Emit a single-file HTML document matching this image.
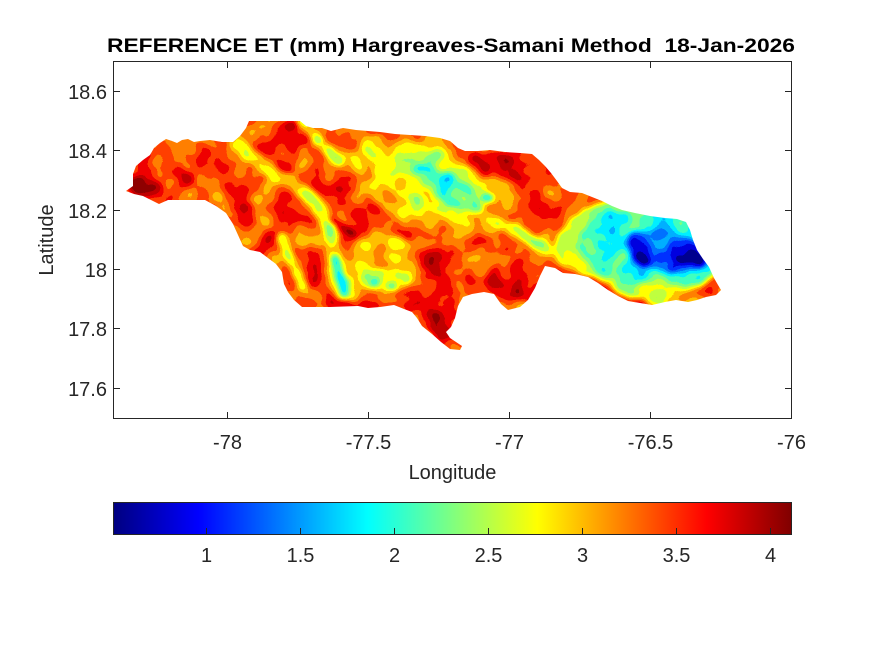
<!DOCTYPE html>
<html>
<head>
<meta charset="utf-8">
<style>
  html,body{margin:0;padding:0;background:#fff;}
  svg{display:block;}
  text{font-family:"Liberation Sans", Arial, sans-serif;}
</style>
</head>
<body>
<svg width="875" height="656" viewBox="0 0 875 656" xmlns="http://www.w3.org/2000/svg">
  <defs>
    <linearGradient id="jet" x1="0" y1="0" x2="1" y2="0">
      <stop offset="0" stop-color="#000080"/>
      <stop offset="0.125" stop-color="#0000ff"/>
      <stop offset="0.375" stop-color="#00ffff"/>
      <stop offset="0.625" stop-color="#ffff00"/>
      <stop offset="0.875" stop-color="#ff0000"/>
      <stop offset="1" stop-color="#800000"/>
    </linearGradient>
    <clipPath id="isl">
      <polygon points="126,191 133,186 133,174 136,166 143,160 150,155 154,148 160,143 166,139 172,141 177,143 182,140 188,139 194,142 200,141 210,140 222,142 233,142 240,136 246,128 249,121 300,121 306,126 313,128 322,128 331,131 343,128 356,130 368,131 380,132 395,134 410,135 425,136 440,138 450,141 458,148 465,151 478,151 490,150 505,152 520,153 532,154 539,160 545,166 551,173 557,181 562,188 570,192 582,193 592,197 602,201 612,206 622,210 635,213 650,216 665,218 677,219 686,222 690,230 693,240 697,250 703,259 709,267 714,278 718,285 721,290 716,295 706,297 697,300 688,302 676,300 665,302 652,305 640,303 628,301 618,296 608,290 598,283 588,277 575,274 563,273 555,268 545,266 540,276 535,288 528,300 520,307 508,310 501,304 494,294 484,292 472,294 463,297 458,306 455,318 451,327 446,332 450,338 456,342 462,346 460,350 450,349 441,342 432,334 422,326 417,318 412,312 404,309 394,305 380,307 368,308 358,306 330,307 302,307 294,300 288,292 284,284 282,272 276,264 268,258 260,252 250,250 243,246 238,235 233,224 226,213 216,206 205,200 195,200 180,200 168,200 159,204 151,200 143,196 134,194"/>
    </clipPath>
    <filter id="f" x="100" y="100" width="650" height="270" filterUnits="userSpaceOnUse" color-interpolation-filters="sRGB">
      <feGaussianBlur in="SourceGraphic" stdDeviation="3" result="b"/>
      <feTurbulence type="fractalNoise" baseFrequency="0.04" numOctaves="2" seed="7" result="t"/>
      <feColorMatrix in="t" type="matrix" values="1 0 0 0 0  1 0 0 0 0  1 0 0 0 0  0 0 0 0 1" result="g"/>
      <feComposite in="b" in2="g" operator="arithmetic" k1="0" k2="1" k3="0.38" k4="-0.19" result="c"/>
      <feComponentTransfer in="c">
        <feFuncR type="discrete" tableValues="0 0 0 0 0 0 0.25 0.5 0.75 1 1 1 1 0.94 0.75 0.56"/>
        <feFuncG type="discrete" tableValues="0 0 0.19 0.44 0.69 0.94 1 1 1 1 0.75 0.5 0.25 0 0 0"/>
        <feFuncB type="discrete" tableValues="0.56 0.875 1 1 1 1 0.75 0.5 0.25 0 0 0 0 0 0 0"/>
      </feComponentTransfer>
    </filter>
  </defs>

  <rect x="0" y="0" width="875" height="656" fill="#fff"/>

  <!-- Map -->
  <g clip-path="url(#isl)">
    <g filter="url(#f)">
      <rect x="100" y="100" width="650" height="270" fill="rgb(194,194,194)"/>
      <!-- West -->
      <ellipse cx="180" cy="172" rx="55" ry="30" fill="rgb(202,202,202)"/>
      <ellipse cx="165" cy="182" rx="28" ry="16" fill="rgb(210,210,210)"/>
      <ellipse cx="148" cy="188" rx="18" ry="9" transform="rotate(15 148 188)" fill="rgb(242,242,242)"/>
      <ellipse cx="205" cy="170" rx="10" ry="8" fill="rgb(212,212,212)"/>
      <ellipse cx="228" cy="185" rx="8" ry="12" fill="rgb(212,212,212)"/>
      <ellipse cx="247" cy="218" rx="10" ry="14" fill="rgb(212,212,212)"/>
      <ellipse cx="268" cy="238" rx="8" ry="12" fill="rgb(212,212,212)"/>
      <path d="M168,145 L195,175 L218,198 L230,215" stroke="rgb(176,176,176)" stroke-width="8" fill="none" stroke-linecap="round"/>
      <path d="M232,138 Q262,168 290,182 T332,238" stroke="rgb(148,148,148)" stroke-width="13" fill="none" stroke-linecap="round"/>
      <ellipse cx="217" cy="197" rx="5" ry="4" fill="rgb(143,143,143)"/>
      <path d="M282,238 L292,262 L302,285" stroke="rgb(145,145,145)" stroke-width="10" fill="none" stroke-linecap="round"/>
      <ellipse cx="312" cy="265" rx="8" ry="25" fill="rgb(215,215,215)"/>
      <ellipse cx="285" cy="155" rx="12" ry="20" transform="rotate(-30 285 155)" fill="rgb(212,212,212)"/>
      <ellipse cx="345" cy="185" rx="15" ry="12" fill="rgb(208,208,208)"/>
      <path d="M335,255 L341,278 L344,296" stroke="rgb(159,159,159)" stroke-width="22" fill="none" stroke-linecap="round"/>
      <path d="M335,258 L341,278 L344,294" stroke="rgb(80,80,80)" stroke-width="9" fill="none" stroke-linecap="round"/>
      <ellipse cx="329" cy="228" rx="5" ry="8" fill="rgb(120,120,120)"/>
      <path d="M333,220 L354,235" stroke="rgb(250,250,250)" stroke-width="7" fill="none" stroke-linecap="round"/>
      <path d="M302,122 L320,143 L338,162" stroke="rgb(148,148,148)" stroke-width="10" fill="none" stroke-linecap="round"/>
      <ellipse cx="318" cy="140" rx="5" ry="3" fill="rgb(104,104,104)"/>
      <ellipse cx="290" cy="125" rx="8" ry="4" fill="rgb(236,236,236)"/>

      <!-- Center -->
      <ellipse cx="430" cy="185" rx="85" ry="45" transform="rotate(25 430 185)" fill="rgb(175,175,175)"/>
      <ellipse cx="428" cy="178" rx="65" ry="30" transform="rotate(25 428 178)" fill="rgb(148,148,148)"/>
      <ellipse cx="385" cy="150" rx="25" ry="12" transform="rotate(20 385 150)" fill="rgb(151,151,151)"/>
      <ellipse cx="447" cy="188" rx="40" ry="13" transform="rotate(32 447 188)" fill="rgb(112,112,112)"/>
      <ellipse cx="447" cy="177" rx="7" ry="5" fill="rgb(76,76,76)"/>
      <ellipse cx="453" cy="203" rx="7" ry="4" fill="rgb(76,76,76)"/>
      <ellipse cx="487" cy="198" rx="6" ry="4" fill="rgb(76,76,76)"/>
      <ellipse cx="420" cy="168" rx="5" ry="4" fill="rgb(90,90,90)"/>
      <ellipse cx="505" cy="168" rx="40" ry="13" transform="rotate(12 505 168)" fill="rgb(210,210,210)"/>
      <ellipse cx="488" cy="155" rx="5" ry="3" fill="rgb(236,236,236)"/>
      <ellipse cx="513" cy="173" rx="4" ry="3" fill="rgb(236,236,236)"/>
      <path d="M490,218 L520,234 L550,252" stroke="rgb(143,143,143)" stroke-width="12" fill="none" stroke-linecap="round"/>
      <ellipse cx="527" cy="238" rx="8" ry="3" transform="rotate(28 527 238)" fill="rgb(112,112,112)"/>

      <!-- South-central -->
      <ellipse cx="385" cy="262" rx="35" ry="30" fill="rgb(175,175,175)"/>
      <ellipse cx="385" cy="280" rx="25" ry="12" fill="rgb(135,135,135)"/>
      <ellipse cx="375" cy="282" rx="5" ry="4" fill="rgb(76,76,76)"/>
      <ellipse cx="392" cy="286" rx="5" ry="3" fill="rgb(76,76,76)"/>
      <ellipse cx="397" cy="243" rx="9" ry="7" fill="rgb(143,143,143)"/>
      <ellipse cx="440" cy="260" rx="25" ry="15" fill="rgb(206,206,206)"/>
      <ellipse cx="440" cy="305" rx="22" ry="35" transform="rotate(-15 440 305)" fill="rgb(212,212,212)"/>
      <ellipse cx="437" cy="318" rx="4" ry="6" fill="rgb(236,236,236)"/>
      <ellipse cx="515" cy="280" rx="28" ry="22" fill="rgb(212,212,212)"/>
      <ellipse cx="517" cy="292" rx="4" ry="6" fill="rgb(238,238,238)"/>
      <path d="M300,303 L420,306" stroke="rgb(208,208,208)" stroke-width="8" fill="none"/>

      <!-- East -->
      <ellipse cx="548" cy="180" rx="8" ry="10" fill="rgb(210,210,210)"/>
      <ellipse cx="640" cy="250" rx="85" ry="52" fill="rgb(135,135,135)"/>
      <ellipse cx="648" cy="250" rx="70" ry="40" transform="rotate(8 648 250)" fill="rgb(98,98,98)"/>
      <ellipse cx="668" cy="252" rx="40" ry="20" transform="rotate(12 668 252)" fill="rgb(62,62,62)"/>
      <ellipse cx="640" cy="248" rx="11" ry="19" transform="rotate(-15 640 248)" fill="rgb(29,29,29)"/>
      <ellipse cx="688" cy="253" rx="22" ry="14" transform="rotate(28 688 253)" fill="rgb(29,29,29)"/>
      <ellipse cx="695" cy="258" rx="10" ry="7" transform="rotate(28 695 258)" fill="rgb(0,0,0)"/>
      <ellipse cx="673" cy="268" rx="5" ry="4" fill="rgb(32,32,32)"/>
      <ellipse cx="650" cy="291" rx="35" ry="7" fill="rgb(135,135,135)"/>
      <path d="M545,268 L575,276 L600,287 L622,300 L645,306" stroke="rgb(207,207,207)" stroke-width="10" fill="none" stroke-linecap="round"/>
      <path d="M650,306 L700,301 L722,291" stroke="rgb(175,175,175)" stroke-width="8" fill="none" stroke-linecap="round"/>
    </g>
  </g>

  <!-- Axes box -->
  <g stroke="#262626" stroke-width="1" fill="none">
    <rect x="113.5" y="61.5" width="678" height="357"/>
    <path d="M227.5,418 V412 M368.5,418 V412 M509.5,418 V412 M650.5,418 V412
             M227.5,62 V68 M368.5,62 V68 M509.5,62 V68 M650.5,62 V68"/>
    <path d="M114,91.5 H120 M114,150.5 H120 M114,210.5 H120 M114,269.5 H120 M114,328.5 H120 M114,388.5 H120
             M791,91.5 H785 M791,150.5 H785 M791,210.5 H785 M791,269.5 H785 M791,328.5 H785 M791,388.5 H785"/>
  </g>

  <!-- Title -->
  <text x="451" y="52" text-anchor="middle" font-size="19.5" font-weight="bold" fill="#000" style="white-space:pre" textLength="688" lengthAdjust="spacingAndGlyphs">REFERENCE ET (mm) Hargreaves-Samani Method  18-Jan-2026</text>

  <!-- Y tick labels -->
  <g font-size="20" fill="#262626" text-anchor="end">
    <text x="107" y="99">18.6</text>
    <text x="107" y="158">18.4</text>
    <text x="107" y="218">18.2</text>
    <text x="107" y="277">18</text>
    <text x="107" y="336">17.8</text>
    <text x="107" y="396">17.6</text>
  </g>

  <!-- X tick labels -->
  <g font-size="20" fill="#262626" text-anchor="middle">
    <text x="227.5" y="449">-78</text>
    <text x="368.5" y="449">-77.5</text>
    <text x="509.5" y="449">-77</text>
    <text x="650.5" y="449">-76.5</text>
    <text x="791.5" y="449">-76</text>
  </g>

  <!-- Axis labels -->
  <text x="452.5" y="479" font-size="20" fill="#262626" text-anchor="middle">Longitude</text>
  <text transform="translate(53 240) rotate(-90)" font-size="20" fill="#262626" text-anchor="middle">Latitude</text>

  <!-- Colorbar -->
  <rect x="113.5" y="502.5" width="678" height="32" fill="url(#jet)" stroke="#262626" stroke-width="1"/>
  <path d="M206.5,534 V528 M300.5,534 V528 M394.5,534 V528 M488.5,534 V528 M582.5,534 V528 M676.5,534 V528 M770.5,534 V528" stroke="#262626" stroke-width="1"/>
  <g font-size="20" fill="#262626" text-anchor="middle">
    <text x="206.5" y="562">1</text>
    <text x="300.5" y="562">1.5</text>
    <text x="394.5" y="562">2</text>
    <text x="488.5" y="562">2.5</text>
    <text x="582.5" y="562">3</text>
    <text x="676.5" y="562">3.5</text>
    <text x="770.5" y="562">4</text>
  </g>
</svg>
</body>
</html>
